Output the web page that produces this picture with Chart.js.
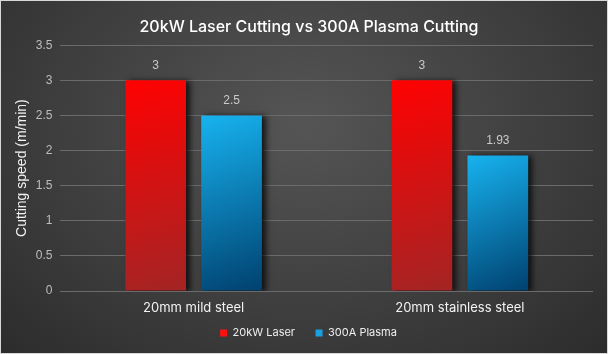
<!DOCTYPE html>
<html>
<head>
<meta charset="utf-8">
<script src="https://cdn.jsdelivr.net/npm/chart.js@4.4.1/dist/chart.umd.min.js"></script>
<style>
  html, body { margin: 0; padding: 0; }
  body { width: 608px; height: 354px; overflow: hidden; }
  #wrap {
    position: relative; width: 606px; height: 352px;
    border: 1px solid #d8d8d8;
    background: radial-gradient(ellipse at 50% 35%, #555555 0%, #3f3f3f 55%, #2c2c2c 100%);
  }
</style>
</head>
<body>
<div id="wrap"><canvas id="viz" width="606" height="352"></canvas></div>
<script>
// chart data
const categories = ['20mm mild steel', '20mm stainless steel'];
const laserValues = [3, 3];
const plasmaValues = [2.5, 1.93];
const seriesNames = ['20kW Laser', '300A Plasma'];
const legendColors = ['#ff1010', '#1a9fe0'];

const gradStops = [
  ['#ff0202', '#a32424'],   // laser: bright red -> dark red
  ['#17b3f0', '#00416f']    // plasma: light blue -> navy
];

// give each bar its own diagonal gradient + drop shadow, value labels on top
const barStyle = {
  id: 'barStyle',
  afterLayout(chart) {
    // title and legend sit a bit right of centre in the original
    chart.titleBlock.left += 7;
    chart.titleBlock.right += 7;
    chart.legend.left += 6.5;
    chart.legend.right += 6.5;
  },
  beforeDatasetsDraw(chart) {
    const ctx = chart.ctx;
    chart.data.datasets.forEach((ds, i) => {
      chart.getDatasetMeta(i).data.forEach(bar => {
        const left = bar.x - bar.width / 2;
        const g = ctx.createLinearGradient(left, bar.y, left + bar.width, bar.base);
        g.addColorStop(0, gradStops[i][0]);
        g.addColorStop(1, gradStops[i][1]);
        bar.options.backgroundColor = g;
      });
    });
    ctx.save();
    ctx.shadowColor = 'rgba(0,0,0,0.75)';
    ctx.shadowBlur = 6;
    ctx.shadowOffsetX = 4;
    ctx.shadowOffsetY = 1;
  },
  afterDatasetsDraw(chart) {
    const ctx = chart.ctx;
    ctx.restore();
    ctx.save();
    ctx.font = '12px "Liberation Sans", Arial, sans-serif';
    ctx.fillStyle = '#c9c9c9';
    ctx.textAlign = 'center';
    ctx.textBaseline = 'middle';
    chart.data.datasets.forEach((ds, i) => {
      chart.getDatasetMeta(i).data.forEach((bar, j) => {
        ctx.fillText(String(ds.data[j]), bar.x, bar.y - 15);
      });
    });
    ctx.restore();
  }
};

const ctx = document.getElementById('viz');
const chart = new Chart(ctx, {
  type: 'bar',
  data: {
    labels: categories,
    datasets: [
      // scriptable colour so each bar keeps its own options object
      { label: seriesNames[0] + '      ', data: laserValues, backgroundColor: () => legendColors[0] },
      { label: seriesNames[1], data: plasmaValues, backgroundColor: () => legendColors[1] }
    ]
  },
  options: {
    responsive: false,
    animation: false,
    categoryPercentage: 0.57,
    barPercentage: 0.8,
    layout: { padding: { left: 10, right: 14, top: 0, bottom: 4.4 } },
    plugins: {
      title: {
        display: true,
        text: '20kW Laser Cutting vs 300A Plasma Cutting',
        color: '#ffffff',
        font: { family: 'Inter, sans-serif', size: 16, weight: '500' },
        padding: { top: 17, bottom: 8 }
      },
      legend: {
        position: 'bottom',
        labels: {
          color: '#eeeeee',
          boxWidth: 7,
          boxHeight: 7,
          padding: 2,
          font: { family: 'Inter, sans-serif', size: 11 },
          generateLabels(c) {
            return c.data.datasets.map((ds, i) => ({
              text: ds.label, fillStyle: legendColors[i], strokeStyle: legendColors[i],
              lineWidth: 0, fontColor: '#eeeeee', datasetIndex: i, hidden: false
            }));
          }
        }
      },
      tooltip: { enabled: false }
    },
    scales: {
      x: {
        grid: { display: false, drawTicks: false },
        border: { display: false },
        ticks: { color: '#f2f2f2', font: { family: 'Inter, sans-serif', size: 13 }, padding: 9.5 }
      },
      y: {
        min: 0,
        max: 3.5,
        ticks: { stepSize: 0.5, color: '#bdbdbd', font: { family: '"Liberation Sans", Arial, sans-serif', size: 12 }, padding: 8,
                 callback: v => String(v) },
        grid: { color: '#6b6b6b', lineWidth: 1, drawTicks: false },
        border: { display: false },
        title: {
          display: true,
          text: 'Cutting speed (m/min)',
          color: '#f2f2f2',
          font: { family: '"Liberation Sans", Arial, sans-serif', size: 14 },
          padding: { top: 3, bottom: -3 }
        }
      }
    }
  },
  plugins: [barStyle]
});
</script>
</body>
</html>
